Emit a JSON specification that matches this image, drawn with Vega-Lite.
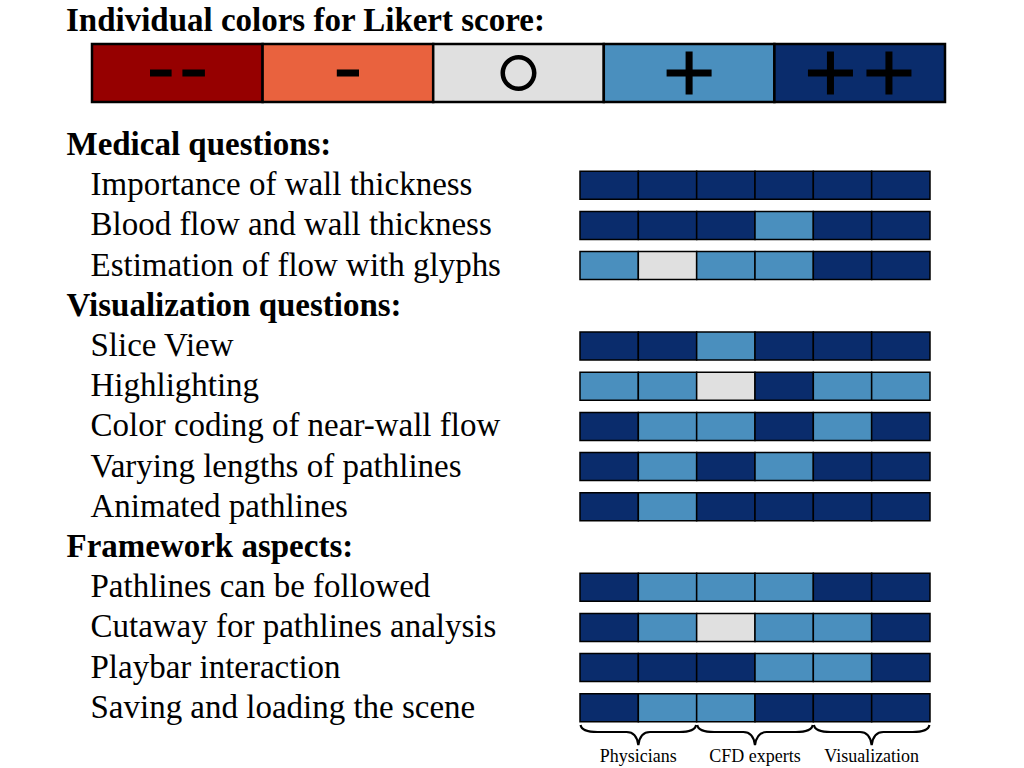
{
  "$schema": "https://vega.github.io/schema/vega-lite/v6.json",
  "width": 350,
  "height": 643.2,
  "autosize": {"type": "none"},
  "padding": {"left": 580, "top": 124.9, "right": 94, "bottom": 0},
  "background": "white",
  "config": {"view": {"stroke": null}, "font": "Liberation Serif"},
  "title": {"text": "Individual colors for Likert score:", "anchor": "start", "frame": "bounds", "font": "Liberation Serif", "fontSize": 33, "fontWeight": "bold", "color": "black", "baseline": "alphabetic", "offset": -21},
  "resolve": {"scale": {"x": "independent", "y": "independent"}},
  "layer": [
    {
      "data": {"values": [
        {"score": "--", "bar": "Likert score"},
        {"score": "-", "bar": "Likert score"},
        {"score": "o", "bar": "Likert score"},
        {"score": "+", "bar": "Likert score"},
        {"score": "++", "bar": "Likert score"}
      ]},
      "encoding": {
        "x": {"field": "score", "type": "nominal", "scale": {"type": "band", "domain": ["--", "-", "o", "+", "++"], "range": [-488, 365], "paddingInner": 0, "paddingOuter": 0}, "axis": null},
        "y": {"field": "bar", "type": "nominal", "scale": {"type": "band", "domain": ["Likert score"], "range": [-80.9, -22.9], "paddingInner": 0, "paddingOuter": 0}, "axis": null}
      },
      "layer": [
        {"mark": {"type": "rect", "stroke": "black", "strokeWidth": 2.5},
         "encoding": {"color": {"field": "score", "type": "nominal", "scale": {"domain": ["--", "-", "o", "+", "++"], "range": ["#960000", "#e9623e", "#e0e0e0", "#4a8fbe", "#0a2c6c"]}, "legend": null}}},
        {"mark": {"type": "point", "filled": true, "color": "black", "opacity": 1, "size": 3600, "strokeWidth": 0},
         "encoding": {"shape": {"field": "score", "type": "nominal", "scale": {"domain": ["--", "-", "o", "+", "++"], "range": [
           "M-0.91,-0.117H-0.19V0.117H-0.91Z M0.17,-0.117H0.92V0.117H0.17Z",
           "M-0.37,-0.117H0.37V0.117H-0.37Z",
           "M0,-0.6A0.6,0.6,0,1,1,0,0.6A0.6,0.6,0,1,1,0,-0.6Z M0,-0.45A0.45,0.45,0,1,0,0,0.45A0.45,0.45,0,1,0,0,-0.45Z",
           "M-0.117,-0.717H0.117V-0.117H0.75V0.117H0.117V0.717H-0.117V0.117H-0.75V-0.117H-0.117Z",
           "M-1.092,-0.717H-0.858V-0.117H-0.225V0.117H-0.858V0.717H-1.092V0.117H-1.725V-0.117H-1.092Z M0.858,-0.717H1.092V-0.117H1.725V0.117H1.092V0.717H0.858V0.117H0.225V-0.117H0.858Z"
         ]}, "legend": null}}}
      ]
    },
    {
      "encoding": {
        "y": {"field": "line", "type": "nominal",
          "scale": {"type": "band", "domain": [
            "Medical questions:",
            "Importance of wall thickness",
            "Blood flow and wall thickness",
            "Estimation of flow with glyphs",
            "Visualization questions:",
            "Slice View",
            "Highlighting",
            "Color coding of near-wall flow",
            "Varying lengths of pathlines",
            "Animated pathlines",
            "Framework aspects:",
            "Pathlines can be followed",
            "Cutaway for pathlines analysis",
            "Playbar interaction",
            "Saving and loading the scene",
            "(groups)"
          ], "paddingInner": 0.3035, "paddingOuter": 0.15175},
          "axis": {"orient": "left", "title": null, "domain": false, "ticks": false, "tickSize": 0, "grid": false,
            "labelExpr": "datum.value == '(groups)' ? '' : datum.label",
            "labelFont": "Liberation Serif", "labelFontSize": 33, "labelColor": "black",
            "labelAlign": "left", "labelBaseline": "middle", "labelLimit": 2000, "labelOverlap": false,
            "labelFontWeight": {"condition": {"test": "test(/:$/, datum.value)", "value": "bold"}, "value": "normal"},
            "labelPadding": {"condition": {"test": "test(/:$/, datum.value)", "value": 514}, "value": 490}}
        }
      },
      "resolve": {"scale": {"x": "independent"}},
      "layer": [
        {
          "data": {"values": [
            {"line": "Importance of wall thickness", "rater": "Physician 1", "score": "++"},
            {"line": "Importance of wall thickness", "rater": "Physician 2", "score": "++"},
            {"line": "Importance of wall thickness", "rater": "CFD expert 1", "score": "++"},
            {"line": "Importance of wall thickness", "rater": "CFD expert 2", "score": "++"},
            {"line": "Importance of wall thickness", "rater": "Visualization 1", "score": "++"},
            {"line": "Importance of wall thickness", "rater": "Visualization 2", "score": "++"},
            {"line": "Blood flow and wall thickness", "rater": "Physician 1", "score": "++"},
            {"line": "Blood flow and wall thickness", "rater": "Physician 2", "score": "++"},
            {"line": "Blood flow and wall thickness", "rater": "CFD expert 1", "score": "++"},
            {"line": "Blood flow and wall thickness", "rater": "CFD expert 2", "score": "+"},
            {"line": "Blood flow and wall thickness", "rater": "Visualization 1", "score": "++"},
            {"line": "Blood flow and wall thickness", "rater": "Visualization 2", "score": "++"},
            {"line": "Estimation of flow with glyphs", "rater": "Physician 1", "score": "+"},
            {"line": "Estimation of flow with glyphs", "rater": "Physician 2", "score": "o"},
            {"line": "Estimation of flow with glyphs", "rater": "CFD expert 1", "score": "+"},
            {"line": "Estimation of flow with glyphs", "rater": "CFD expert 2", "score": "+"},
            {"line": "Estimation of flow with glyphs", "rater": "Visualization 1", "score": "++"},
            {"line": "Estimation of flow with glyphs", "rater": "Visualization 2", "score": "++"},
            {"line": "Slice View", "rater": "Physician 1", "score": "++"},
            {"line": "Slice View", "rater": "Physician 2", "score": "++"},
            {"line": "Slice View", "rater": "CFD expert 1", "score": "+"},
            {"line": "Slice View", "rater": "CFD expert 2", "score": "++"},
            {"line": "Slice View", "rater": "Visualization 1", "score": "++"},
            {"line": "Slice View", "rater": "Visualization 2", "score": "++"},
            {"line": "Highlighting", "rater": "Physician 1", "score": "+"},
            {"line": "Highlighting", "rater": "Physician 2", "score": "+"},
            {"line": "Highlighting", "rater": "CFD expert 1", "score": "o"},
            {"line": "Highlighting", "rater": "CFD expert 2", "score": "++"},
            {"line": "Highlighting", "rater": "Visualization 1", "score": "+"},
            {"line": "Highlighting", "rater": "Visualization 2", "score": "+"},
            {"line": "Color coding of near-wall flow", "rater": "Physician 1", "score": "++"},
            {"line": "Color coding of near-wall flow", "rater": "Physician 2", "score": "+"},
            {"line": "Color coding of near-wall flow", "rater": "CFD expert 1", "score": "+"},
            {"line": "Color coding of near-wall flow", "rater": "CFD expert 2", "score": "++"},
            {"line": "Color coding of near-wall flow", "rater": "Visualization 1", "score": "+"},
            {"line": "Color coding of near-wall flow", "rater": "Visualization 2", "score": "++"},
            {"line": "Varying lengths of pathlines", "rater": "Physician 1", "score": "++"},
            {"line": "Varying lengths of pathlines", "rater": "Physician 2", "score": "+"},
            {"line": "Varying lengths of pathlines", "rater": "CFD expert 1", "score": "++"},
            {"line": "Varying lengths of pathlines", "rater": "CFD expert 2", "score": "+"},
            {"line": "Varying lengths of pathlines", "rater": "Visualization 1", "score": "++"},
            {"line": "Varying lengths of pathlines", "rater": "Visualization 2", "score": "++"},
            {"line": "Animated pathlines", "rater": "Physician 1", "score": "++"},
            {"line": "Animated pathlines", "rater": "Physician 2", "score": "+"},
            {"line": "Animated pathlines", "rater": "CFD expert 1", "score": "++"},
            {"line": "Animated pathlines", "rater": "CFD expert 2", "score": "++"},
            {"line": "Animated pathlines", "rater": "Visualization 1", "score": "++"},
            {"line": "Animated pathlines", "rater": "Visualization 2", "score": "++"},
            {"line": "Pathlines can be followed", "rater": "Physician 1", "score": "++"},
            {"line": "Pathlines can be followed", "rater": "Physician 2", "score": "+"},
            {"line": "Pathlines can be followed", "rater": "CFD expert 1", "score": "+"},
            {"line": "Pathlines can be followed", "rater": "CFD expert 2", "score": "+"},
            {"line": "Pathlines can be followed", "rater": "Visualization 1", "score": "++"},
            {"line": "Pathlines can be followed", "rater": "Visualization 2", "score": "++"},
            {"line": "Cutaway for pathlines analysis", "rater": "Physician 1", "score": "++"},
            {"line": "Cutaway for pathlines analysis", "rater": "Physician 2", "score": "+"},
            {"line": "Cutaway for pathlines analysis", "rater": "CFD expert 1", "score": "o"},
            {"line": "Cutaway for pathlines analysis", "rater": "CFD expert 2", "score": "+"},
            {"line": "Cutaway for pathlines analysis", "rater": "Visualization 1", "score": "+"},
            {"line": "Cutaway for pathlines analysis", "rater": "Visualization 2", "score": "++"},
            {"line": "Playbar interaction", "rater": "Physician 1", "score": "++"},
            {"line": "Playbar interaction", "rater": "Physician 2", "score": "++"},
            {"line": "Playbar interaction", "rater": "CFD expert 1", "score": "++"},
            {"line": "Playbar interaction", "rater": "CFD expert 2", "score": "+"},
            {"line": "Playbar interaction", "rater": "Visualization 1", "score": "+"},
            {"line": "Playbar interaction", "rater": "Visualization 2", "score": "++"},
            {"line": "Saving and loading the scene", "rater": "Physician 1", "score": "++"},
            {"line": "Saving and loading the scene", "rater": "Physician 2", "score": "+"},
            {"line": "Saving and loading the scene", "rater": "CFD expert 1", "score": "+"},
            {"line": "Saving and loading the scene", "rater": "CFD expert 2", "score": "++"},
            {"line": "Saving and loading the scene", "rater": "Visualization 1", "score": "++"},
            {"line": "Saving and loading the scene", "rater": "Visualization 2", "score": "++"}
          ]},
          "mark": {"type": "rect", "stroke": "black", "strokeWidth": 1.5},
          "encoding": {
            "x": {"field": "rater", "type": "nominal", "scale": {"type": "band", "domain": ["Physician 1", "Physician 2", "CFD expert 1", "CFD expert 2", "Visualization 1", "Visualization 2"], "paddingInner": 0, "paddingOuter": 0}, "axis": null},
            "color": {"field": "score", "type": "nominal", "scale": {"domain": ["--", "-", "o", "+", "++"], "range": ["#960000", "#e9623e", "#e0e0e0", "#4a8fbe", "#0a2c6c"]}, "legend": null}
          }
        },
        {
          "data": {"values": [
            {"group": "Physicians", "line": "(groups)"},
            {"group": "CFD experts", "line": "(groups)"},
            {"group": "Visualization", "line": "(groups)"}
          ]},
          "mark": {"type": "point", "filled": false, "stroke": "black", "strokeWidth": 2.2, "opacity": 1, "size": 13619, "yOffset": -16,
            "shape": "M-0.99,-0.12Q-0.97,0,-0.7,0L-0.2,0Q-0.03,0,0,0.223Q0.03,0,0.2,0L0.7,0Q0.97,0,0.99,-0.12"},
          "encoding": {
            "x": {"field": "group", "type": "nominal", "scale": {"type": "band", "domain": ["Physicians", "CFD experts", "Visualization"], "paddingInner": 0, "paddingOuter": 0}, "axis": null}
          }
        },
        {
          "data": {"values": [
            {"group": "Physicians", "line": "(groups)"},
            {"group": "CFD experts", "line": "(groups)"},
            {"group": "Visualization", "line": "(groups)"}
          ]},
          "mark": {"type": "text", "font": "Liberation Serif", "fontSize": 18, "color": "black", "baseline": "middle", "align": "center", "dy": 9},
          "encoding": {
            "x": {"field": "group", "type": "nominal", "scale": {"type": "band", "domain": ["Physicians", "CFD experts", "Visualization"], "paddingInner": 0, "paddingOuter": 0}, "axis": null},
            "text": {"field": "group"}
          }
        }
      ]
    }
  ]
}
